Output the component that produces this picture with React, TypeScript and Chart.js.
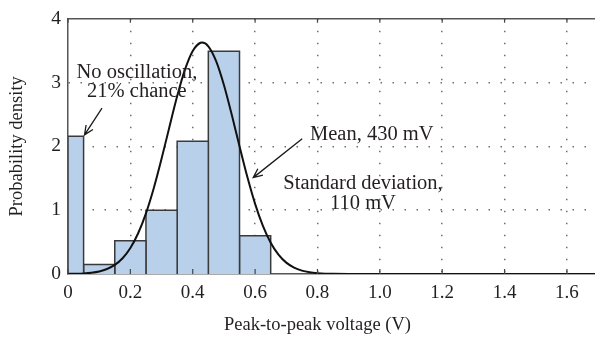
import React, { useEffect, useRef } from "react";
import { Chart, registerables } from "chart.js";

Chart.register(...registerables);

// Histogram bins (Peak-to-peak voltage, V) and densities
const binEdges = [0, 0.05, 0.15, 0.25, 0.35, 0.45, 0.55, 0.65];
const binHeights = [2.16, 0.15, 0.52, 1.0, 2.08, 3.49, 0.6];

// Fitted normal curve
const curveX = [
  0, 0.025, 0.05, 0.075, 0.1, 0.125, 0.15, 0.175, 0.2, 0.225, 0.25, 0.275, 0.3, 0.325, 0.35, 0.375,
  0.4, 0.425, 0.43, 0.45, 0.475, 0.5, 0.525, 0.55, 0.575, 0.6, 0.625, 0.65, 0.675, 0.7, 0.725, 0.75,
  0.775, 0.8, 0.825, 0.85, 0.9, 1.0, 1.69,
];
const curveY = [
  0.002, 0.004, 0.009, 0.02, 0.04, 0.078, 0.142, 0.247, 0.408, 0.639, 0.951, 1.344, 1.805, 2.3, 2.784,
  3.201, 3.495, 3.623, 3.627, 3.568, 3.336, 2.962, 2.498, 2.001, 1.522, 1.099, 0.754, 0.491, 0.304,
  0.178, 0.1, 0.053, 0.027, 0.013, 0.005, 0.0025, 0.0004, 0, 0,
];

const xTickValues = [0, 0.2, 0.4, 0.6, 0.8, 1.0, 1.2, 1.4, 1.6];
const yTickValues = [0, 1, 2, 3, 4];

const xTitle = "Peak-to-peak voltage (V)";
const yTitle = "Probability density";

const FONT = "'Liberation Serif', 'Times New Roman', serif";
const TEXT_COLOR = "#231f20";

export default function App() {
  const ref = useRef<HTMLCanvasElement | null>(null);

  useEffect(() => {
    if (!ref.current) return;

    const barDatasets = binHeights.map((h, i) => ({
      type: "line" as const,
      data: [
        { x: binEdges[i], y: 0 },
        { x: binEdges[i], y: h },
        { x: binEdges[i + 1], y: h },
        { x: binEdges[i + 1], y: 0 },
      ],
      borderColor: "#3a3a3a",
      borderWidth: 1.5,
      backgroundColor: "#b9d0eb",
      fill: "origin",
      pointRadius: 0,
      tension: 0,
      order: 2,
    }));

    const curveDataset = {
      type: "line" as const,
      data: curveX.map((x, i) => ({ x, y: curveY[i] })),
      borderColor: "#111111",
      borderWidth: 2,
      fill: false,
      pointRadius: 0,
      cubicInterpolationMode: "monotone" as const,
      order: 0,
    };

    const framePlugin = {
      id: "frameAndNotes",
      afterDatasetsDraw(chart: any) {
        const { ctx, chartArea, scales } = chart;
        const xs = scales.x;
        const ys = scales.y;
        ctx.save();
        // frame top
        ctx.strokeStyle = "#555555";
        ctx.lineWidth = 1.5;
        ctx.beginPath();
        ctx.moveTo(chartArea.left, chartArea.top);
        ctx.lineTo(chartArea.right, chartArea.top);
        ctx.stroke();
        // inward tick marks on top and bottom
        ctx.lineWidth = 1.2;
        ctx.strokeStyle = "#444444";
        xTickValues.forEach((v) => {
          const px = xs.getPixelForValue(v);
          ctx.beginPath();
          ctx.moveTo(px, chartArea.top);
          ctx.lineTo(px, chartArea.top + 4);
          ctx.moveTo(px, chartArea.bottom);
          ctx.lineTo(px, chartArea.bottom - 5);
          ctx.stroke();
        });

        // annotations
        const P = (x: number, y: number) => [xs.getPixelForValue(x), ys.getPixelForValue(y)];
        ctx.fillStyle = TEXT_COLOR;
        ctx.font = `20.5px ${FONT}`;
        ctx.textBaseline = "middle";
        ctx.textAlign = "center";
        let p = P(0.221, 3.15);
        ctx.fillText("No oscillation,", p[0], p[1]);
        p = P(0.221, 2.86);
        ctx.fillText("21% chance", p[0], p[1]);
        p = P(0.946, 1.42);
        ctx.fillText("Standard deviation,", p[0], p[1]);
        p = P(0.946, 1.1);
        ctx.fillText("110 mV", p[0], p[1]);
        ctx.textAlign = "left";
        p = P(0.776, 2.18);
        ctx.fillText("Mean, 430 mV", p[0], p[1]);

        // axis titles
        ctx.font = `18.5px ${FONT}`;
        ctx.textAlign = "center";
        ctx.fillText(xTitle, xs.getPixelForValue(0.8), 325);
        ctx.save();
        ctx.translate(17, (chartArea.top + chartArea.bottom) / 2);
        ctx.rotate(-Math.PI / 2);
        ctx.fillText(yTitle, 0, 0);
        ctx.restore();

        const arrow = (a: number[], b: number[]) => {
          ctx.strokeStyle = "#1a1a1a";
          ctx.lineWidth = 1.3;
          ctx.beginPath();
          ctx.moveTo(a[0], a[1]);
          ctx.lineTo(b[0], b[1]);
          const ang = Math.atan2(b[1] - a[1], b[0] - a[0]);
          const L = 10;
          const s = 0.42;
          ctx.moveTo(b[0] - L * Math.cos(ang - s), b[1] - L * Math.sin(ang - s));
          ctx.lineTo(b[0], b[1]);
          ctx.lineTo(b[0] - L * Math.cos(ang + s), b[1] - L * Math.sin(ang + s));
          ctx.stroke();
        };
        arrow(P(0.109, 2.6), P(0.053, 2.18));
        arrow(P(0.751, 2.12), P(0.594, 1.51));
        ctx.restore();
      },
    };

    const chart = new Chart(ref.current, {
      type: "line",
      data: { datasets: [curveDataset, ...barDatasets] as any },
      options: {
        animation: false,
        responsive: false,
        devicePixelRatio: 1,
        layout: { padding: { top: 15, right: 0, left: 0, bottom: 0 } },
        plugins: { legend: { display: false }, tooltip: { enabled: false } },
        scales: {
          x: {
            type: "linear",
            min: 0,
            max: 1.69,
            afterBuildTicks: (s: any) => {
              s.ticks = xTickValues.map((v) => ({ value: v }));
            },
            afterFit: (s: any) => {
              s.height = 64;
            },
            grid: {
              color: (c: any) => (c.tick && c.tick.value === 0 ? "rgba(0,0,0,0)" : "#6f6f6f"),
              lineWidth: 1.5,
              drawTicks: false,
            },
            border: { display: true, color: "#555555", width: 1.5, dash: [1.5, 10.5] },
            ticks: {
              padding: 8,
              color: TEXT_COLOR,
              font: { family: FONT, size: 19 },
              maxRotation: 0,
            },
          },
          y: {
            type: "linear",
            min: 0,
            max: 4,
            afterBuildTicks: (s: any) => {
              s.ticks = yTickValues.map((v) => ({ value: v }));
            },
            afterFit: (s: any) => {
              s.width = 68;
            },
            grid: {
              color: (c: any) =>
                c.tick && (c.tick.value === 0 || c.tick.value === 4) ? "rgba(0,0,0,0)" : "#6f6f6f",
              lineWidth: 1.5,
              drawTicks: false,
            },
            border: { display: true, color: "#555555", width: 1.5, dash: [1.5, 10.5] },
            ticks: {
              padding: 7,
              color: TEXT_COLOR,
              font: { family: FONT, size: 19.5 },
            },
          },
        },
      } as any,
      plugins: [framePlugin],
    });
    return () => chart.destroy();
  }, []);

  return (
    <div style={{ position: "fixed", left: 0, top: 0, width: 595, height: 338, background: "#fff" }}>
      <canvas ref={ref} width={595} height={338} style={{ display: "block" }} />
    </div>
  );
}
